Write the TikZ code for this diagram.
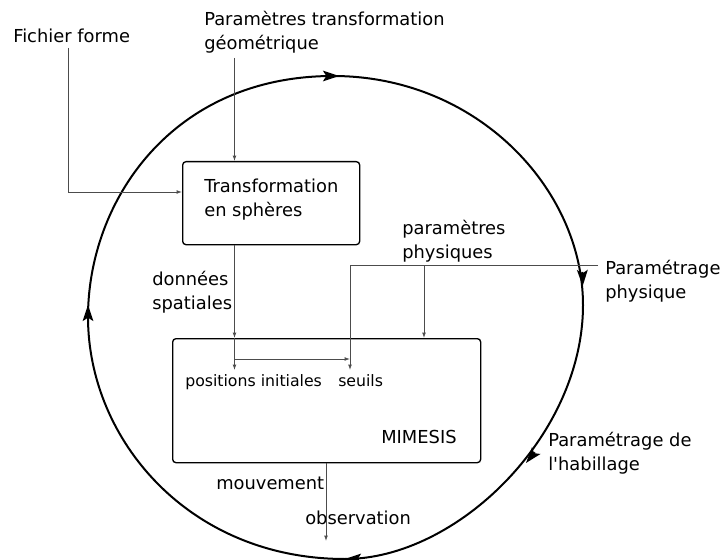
\documentclass[tikz,border=0pt]{standalone}
\usepackage{fontspec}
\setmainfont{DejaVu Sans}[Ligatures=TeXOff]
\usetikzlibrary{arrows.meta,calc}
\begin{document}
\begin{tikzpicture}[x=0.75pt,y=-0.75pt,
  lbl/.style={font=\fontsize{13.4}{18}\selectfont, inner sep=0pt, anchor=base west, align=left},
  smalllbl/.style={font=\fontsize{11.8}{16}\selectfont, inner sep=0pt, anchor=base west},
  box/.style={draw, line width=1pt, rounded corners=2.5pt, anchor=north west, inner sep=0pt},
  flow/.style={draw=black!70, line width=0.6pt, -{Latex[length=4pt,width=2.8pt]}},
  link/.style={draw=black!70, line width=0.6pt},
  cycleline/.style={line width=1.5pt},
  cyclehead/.style={line width=1.5pt, -{Stealth[length=12pt,width=8pt,inset=2.5pt]}}
]
\useasboundingbox (0,0) rectangle (722,560);

% the outer cycle, one cubic per quadrant
\draw[cycleline] (333,76)
  .. controls (477,76) and (583,189) .. (583,305)
  .. controls (583,435.7) and (457,559) .. (345,559)
  .. controls (189,559) and (88,439.7) .. (88,317)
  .. controls (88,201) and (172,76) .. cycle;

% arrowheads along the cycle (clockwise)
\coordinate (hTop) at (339,76);
\coordinate (hRight) at (582.7,286);
\coordinate (hLowRight) at (526,463);
\coordinate (hBottom) at (345,559);
\coordinate (hLeft) at (88,305);
\draw[cyclehead] ($(hTop)+(-14,0)$) -- (hTop);
\draw[cyclehead] ($(hRight)+(-0.3,-14)$) -- (hRight);
\draw[cyclehead] ($(hLowRight)+(8.8,-10.7)$) -- (hLowRight);
\draw[cyclehead] ($(hBottom)+(14,0)$) -- (hBottom);
\draw[cyclehead] ($(hLeft)+(0,14)$) -- (hLeft);

% boxes
\node[box, minimum width=132.75pt, minimum height=62.25pt] (tbox) at (182,161) {};
\node[box, minimum width=231pt, minimum height=93pt] (mbox) at (172,338) {};

% labels (multi-line ones are placed by the baseline of their last line)
\node[lbl] (fichier) at (13,43) {Fichier forme};
\node[lbl] (ptg) at (204,50) {Paramètres transformation\\géométrique};
\node[lbl] (tlabel) at (204,216.5) {Transformation\\en sphères};
\node[lbl] (donnees) at (152,309) {données\\spatiales};
\node[lbl] (pphys) at (402,258) {paramètres\\physiques};
\node[lbl] (paramphys) at (605,298) {Paramétrage\\physique};
\node[smalllbl] (pos) at (185,386) {positions initiales};
\node[smalllbl] (seuils) at (338,386) {seuils};
\node[lbl] (mimesis) at (381,443) {MIMESIS};
\node[lbl] (mouv) at (216,489) {mouvement};
\node[lbl] (obs) at (305,524) {observation};
\node[lbl] (habillage) at (548,470) {Paramétrage de\\l'habillage};

% connector end points
\coordinate (fA) at (68,48);
\coordinate (pA) at (234.5,58);
\coordinate (posTip) at (234.5,370);
\coordinate (split) at (234.5,359);
\coordinate (sTop) at (350,265);
\coordinate (sTip) at (350,370);
\coordinate (ppEnd) at (598,265);
\coordinate (ppDrop) at (424,265);
\coordinate (mvA) at (326,462);
\coordinate (obsTip) at (326,541);

% connectors
\draw[flow] (fA) |- ($(tbox.north west)+(0,31)$);
\draw[flow] (pA) -- (pA |- tbox.north);
\draw[flow] (pA |- tbox.south) -- (pA |- mbox.north);
\draw[flow] (pA |- mbox.north) -- (posTip);
\draw[flow] (split) -- (split -| sTop);
\draw[link] (ppEnd) -- (sTop);
\draw[flow] (sTop) -- (sTip);
\draw[flow] (ppDrop) -- (ppDrop |- mbox.north);
\draw[flow] (mvA |- mbox.south) -- (obsTip);
\end{tikzpicture}
\end{document}
